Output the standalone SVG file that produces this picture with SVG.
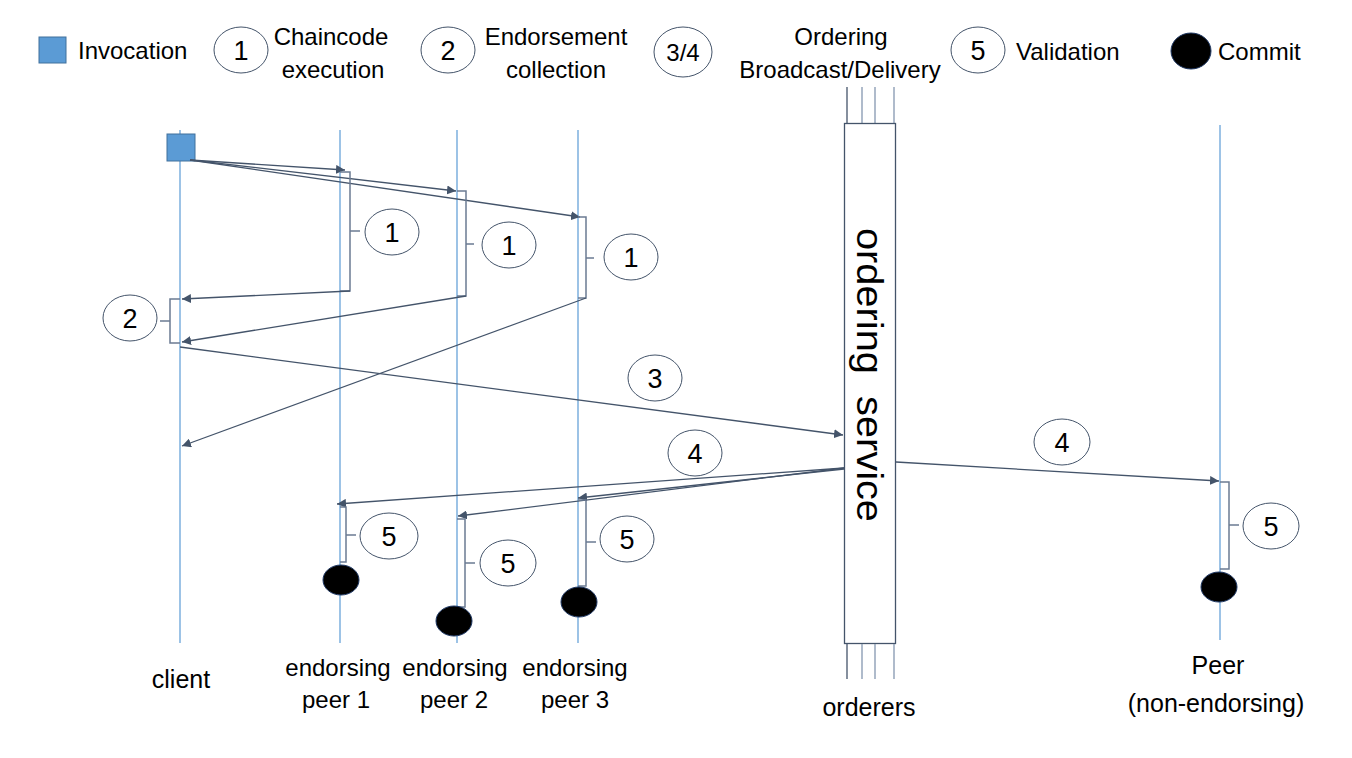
<svg xmlns="http://www.w3.org/2000/svg" width="1352" height="758" viewBox="0 0 1352 758">
<style>
text{font-family:"Liberation Sans",Arial,sans-serif;fill:#000}
.lbl{font-size:24px;text-anchor:middle}
.big{font-size:25px;text-anchor:middle}
.num{font-size:27px;text-anchor:middle}
.ell{fill:#fff;stroke:#44546A;stroke-width:1}
.life{stroke:#5B9BD5;stroke-width:1.2;fill:none}
.arr{stroke:#44546A;stroke-width:1.3;fill:none;marker-end:url(#ah)}
.br{stroke:#6B7B93;stroke-width:1.5;fill:none}
.commit{fill:#000;stroke:#1F3864;stroke-width:1}
.ord{stroke:#44546A;stroke-width:1.3;fill:none}
.ord2{stroke:#8497B0;stroke-width:1.3;fill:none}
</style>
<defs>
<marker id="ah" viewBox="0 0 10 10" refX="10" refY="5" markerWidth="9" markerHeight="9" markerUnits="userSpaceOnUse" orient="auto">
<path d="M0,0 L10,5 L0,10 Z" fill="#44546A"/>
</marker>
</defs>
<rect width="1352" height="758" fill="#fff"/>

<g id="legend">
<rect x="39" y="37" width="27" height="26" fill="#5B9BD5" stroke="#41719C" stroke-width="1"/>
<text x="78" y="59" style="font-size:24px">Invocation</text>
<ellipse class="ell" cx="241" cy="50" rx="27" ry="23"/>
<text class="num" x="241" y="60">1</text>
<text class="lbl" x="331" y="45">Chaincode</text>
<text class="lbl" x="333" y="78">execution</text>
<ellipse class="ell" cx="448" cy="50" rx="27" ry="23"/>
<text class="num" x="448" y="60">2</text>
<text class="lbl" x="556" y="45">Endorsement</text>
<text class="lbl" x="556" y="78">collection</text>
<ellipse class="ell" cx="683" cy="52" rx="29" ry="25"/>
<text class="lbl" x="683" y="61">3/4</text>
<text class="lbl" x="841" y="45">Ordering</text>
<text class="lbl" x="840" y="78">Broadcast/Delivery</text>
<ellipse class="ell" cx="978" cy="50" rx="27" ry="23"/>
<text class="num" x="978" y="60">5</text>
<text x="1016" y="60" style="font-size:24px">Validation</text>
<ellipse class="commit" cx="1191" cy="51" rx="20" ry="18"/>
<text x="1218" y="60" style="font-size:24px">Commit</text>
</g>

<g id="client">
<line class="life" x1="180" y1="130" x2="180" y2="643"/>
<rect x="167" y="134" width="28" height="27" fill="#5B9BD5" stroke="#41719C" stroke-width="1"/>
<text class="big" x="181" y="688">client</text>
</g>

<g id="peer1">
<line class="life" x1="340" y1="130" x2="340" y2="643"/>
<text class="lbl" x="338" y="676">endorsing</text>
<text class="lbl" x="336" y="708">peer 1</text>
</g>
<g id="peer2">
<line class="life" x1="457" y1="130" x2="457" y2="643"/>
<text class="lbl" x="455" y="676">endorsing</text>
<text class="lbl" x="454" y="708">peer 2</text>
</g>
<g id="peer3">
<line class="life" x1="578" y1="130" x2="578" y2="643"/>
<text class="lbl" x="575" y="676">endorsing</text>
<text class="lbl" x="575" y="708">peer 3</text>
</g>

<g id="ordering">
<line class="ord" x1="847" y1="87" x2="847" y2="123"/>
<line class="ord2" x1="862" y1="87" x2="862" y2="123"/>
<line class="ord2" x1="875" y1="87" x2="875" y2="123"/>
<line class="ord2" x1="894" y1="87" x2="894" y2="123"/>
<rect x="844.5" y="123.5" width="51" height="520" fill="#fff" stroke="#44546A" stroke-width="1.3"/>
<line class="ord" x1="847" y1="644" x2="847" y2="679"/>
<line class="ord2" x1="862" y1="644" x2="862" y2="679"/>
<line class="ord2" x1="875" y1="644" x2="875" y2="679"/>
<line class="ord2" x1="894" y1="644" x2="894" y2="679"/>
<text transform="translate(857,375) rotate(90)" style="font-size:36px;text-anchor:middle" textLength="294" lengthAdjust="spacingAndGlyphs">ordering&#160; service</text>
<text class="big" x="869" y="716">orderers</text>
</g>

<g id="peer">
<line x1="1220" y1="125" x2="1220" y2="640" stroke="#9DC3E6" stroke-width="2"/>
<text class="big" x="1218" y="674">Peer</text>
<text class="big" x="1216" y="712">(non-endorsing)</text>
</g>

<g id="connectors">
<line class="arr" x1="190" y1="160" x2="345" y2="170"/>
<line class="arr" x1="190" y1="160" x2="456" y2="191"/>
<line class="arr" x1="190" y1="160" x2="580" y2="217"/>
<path class="br" d="M340,172 H350 V291 H340 M350,231 H360"/>
<path class="br" d="M457,191 H466 V296 H457 M466,244 H474"/>
<path class="br" d="M578,217 H586 V298 H578 M586,258 H594"/>
<line class="arr" x1="350" y1="291" x2="182" y2="299"/>
<line class="arr" x1="466" y1="296" x2="182" y2="342"/>
<line class="arr" x1="586" y1="298" x2="182" y2="446"/>
<path class="br" d="M180,299 H170 V343 H180 M170,321 H160"/>
<line class="arr" x1="180" y1="347" x2="843" y2="435"/>
<line class="arr" x1="844" y1="468" x2="337" y2="504"/>
<line class="arr" x1="844" y1="468" x2="458" y2="516"/>
<line class="arr" x1="844" y1="469" x2="578" y2="498"/>
<line class="arr" x1="896" y1="462" x2="1219" y2="481"/>
<path class="br" d="M340,507 H346 V562 H340 M346,535 H356"/>
<path class="br" d="M457,519 H465 V607 H457 M465,563 H475"/>
<path class="br" d="M578,500 H586 V586 H578 M586,542 H596"/>
<path class="br" d="M1220,482 H1229 V569 H1220 M1229,525 H1239"/>
</g>

<g id="steps">
<ellipse class="ell" cx="392" cy="232" rx="27" ry="23"/><text class="num" x="392" y="242">1</text>
<ellipse class="ell" cx="509" cy="245" rx="27" ry="23"/><text class="num" x="509" y="255">1</text>
<ellipse class="ell" cx="631" cy="257" rx="27" ry="23"/><text class="num" x="631" y="267">1</text>
<ellipse class="ell" cx="130" cy="318" rx="27" ry="23"/><text class="num" x="130" y="328">2</text>
<ellipse class="ell" cx="655" cy="378" rx="27" ry="23"/><text class="num" x="655" y="388">3</text>
<ellipse class="ell" cx="695" cy="453" rx="27" ry="23"/><text class="num" x="695" y="463">4</text>
<ellipse class="ell" cx="1062" cy="442" rx="28" ry="23"/><text class="num" x="1062" y="452">4</text>
<ellipse class="ell" cx="389" cy="536" rx="29" ry="23"/><text class="num" x="389" y="546">5</text>
<ellipse class="ell" cx="508" cy="563" rx="28" ry="23"/><text class="num" x="508" y="573">5</text>
<ellipse class="ell" cx="627" cy="539" rx="27" ry="23"/><text class="num" x="627" y="549">5</text>
<ellipse class="ell" cx="1271" cy="526" rx="28" ry="23"/><text class="num" x="1271" y="536">5</text>
</g>

<g id="commits">
<ellipse class="commit" cx="341" cy="580" rx="18" ry="15"/>
<ellipse class="commit" cx="454" cy="621" rx="18" ry="15"/>
<ellipse class="commit" cx="579" cy="602" rx="18" ry="15"/>
<ellipse class="commit" cx="1219" cy="587" rx="18" ry="15"/>
</g>
</svg>
